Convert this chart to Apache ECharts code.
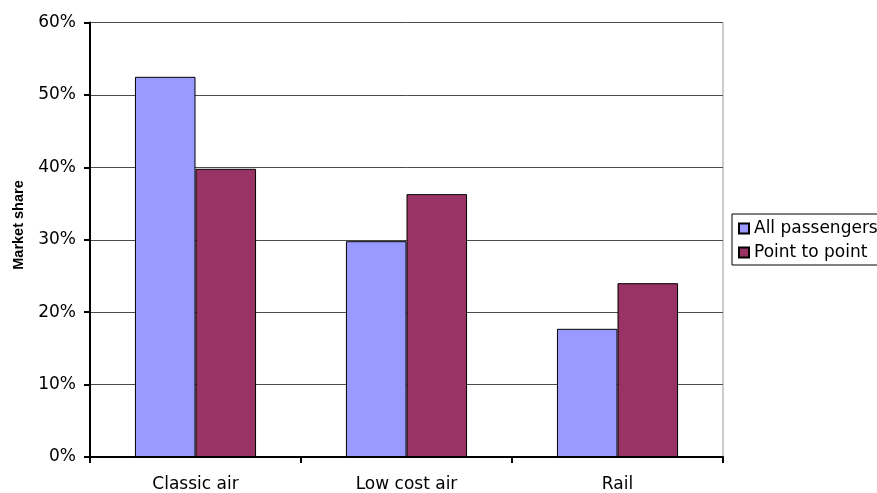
<!DOCTYPE html>
<html>
<head>
<meta charset="utf-8">
<script src="https://cdn.jsdelivr.net/npm/echarts@6/dist/echarts.min.js"></script>
<style>html,body{margin:0;padding:0;background:#fff;}#c{width:877px;height:493px;}</style>
</head>
<body>
<div id="c"></div>
<script>
var categories = ['Classic air', 'Low cost air', 'Rail'];
var allPassengers = [52.5, 29.8, 17.7];
var pointToPoint = [39.8, 36.3, 24.0];
var seriesNames = ['All passengers', 'Point to point'];
var yAxisTitle = 'Market share';

var chart = echarts.init(document.getElementById('c'), null, {renderer: 'canvas'});
chart.setOption({
  animation: false,
  backgroundColor: '#ffffff',
  grid: {left: 90, right: 154, top: 22.5, bottom: 35, show: true, borderColor: '#999999', borderWidth: 1, backgroundColor: 'transparent'},
  legend: {
    orient: 'vertical', left: 732, top: 214,
    data: seriesNames,
    icon: 'rect', itemWidth: 10, itemHeight: 10, itemGap: 7,
    padding: [6, 5, 4, 6],
    borderColor: '#000', borderWidth: 1,
    textStyle: {fontFamily: 'DejaVu Sans', fontSize: 17, color: '#000'}
  },
  xAxis: {
    type: 'category', data: categories,
    axisLine: {lineStyle: {color: '#000', width: 2}},
    axisTick: {show: true, length: 6, lineStyle: {color: '#000', width: 2}},
    axisLabel: {fontFamily: 'DejaVu Sans', fontSize: 17, color: '#000', margin: 19}
  },
  yAxis: {
    type: 'value', min: 0, max: 60, interval: 10,
    axisLine: {show: true, lineStyle: {color: '#000', width: 2}},
    axisTick: {show: true, length: 6, lineStyle: {color: '#000', width: 2}},
    axisLabel: {formatter: '{value}%', fontFamily: 'DejaVu Sans', fontSize: 17, color: '#000', margin: 14},
    splitLine: {lineStyle: {color: '#4a4a4a', width: 1}}
  },
  graphic: [{
    type: 'text', x: 19, y: 225, rotation: Math.PI / 2,
    style: {text: yAxisTitle, font: 'bold 14.5px "Liberation Sans", Arial', fill: '#000', align: 'center', verticalAlign: 'middle'}
  }],
  series: [
    {name: seriesNames[0], type: 'bar', data: allPassengers, barGap: '0%', barCategoryGap: '42.6%',
     itemStyle: {color: '#9999FF', borderColor: '#000', borderWidth: 1}},
    {name: seriesNames[1], type: 'bar', data: pointToPoint, barGap: '0%', barCategoryGap: '42.6%',
     itemStyle: {color: '#993366', borderColor: '#000', borderWidth: 1}}
  ]
});
</script>
</body>
</html>
